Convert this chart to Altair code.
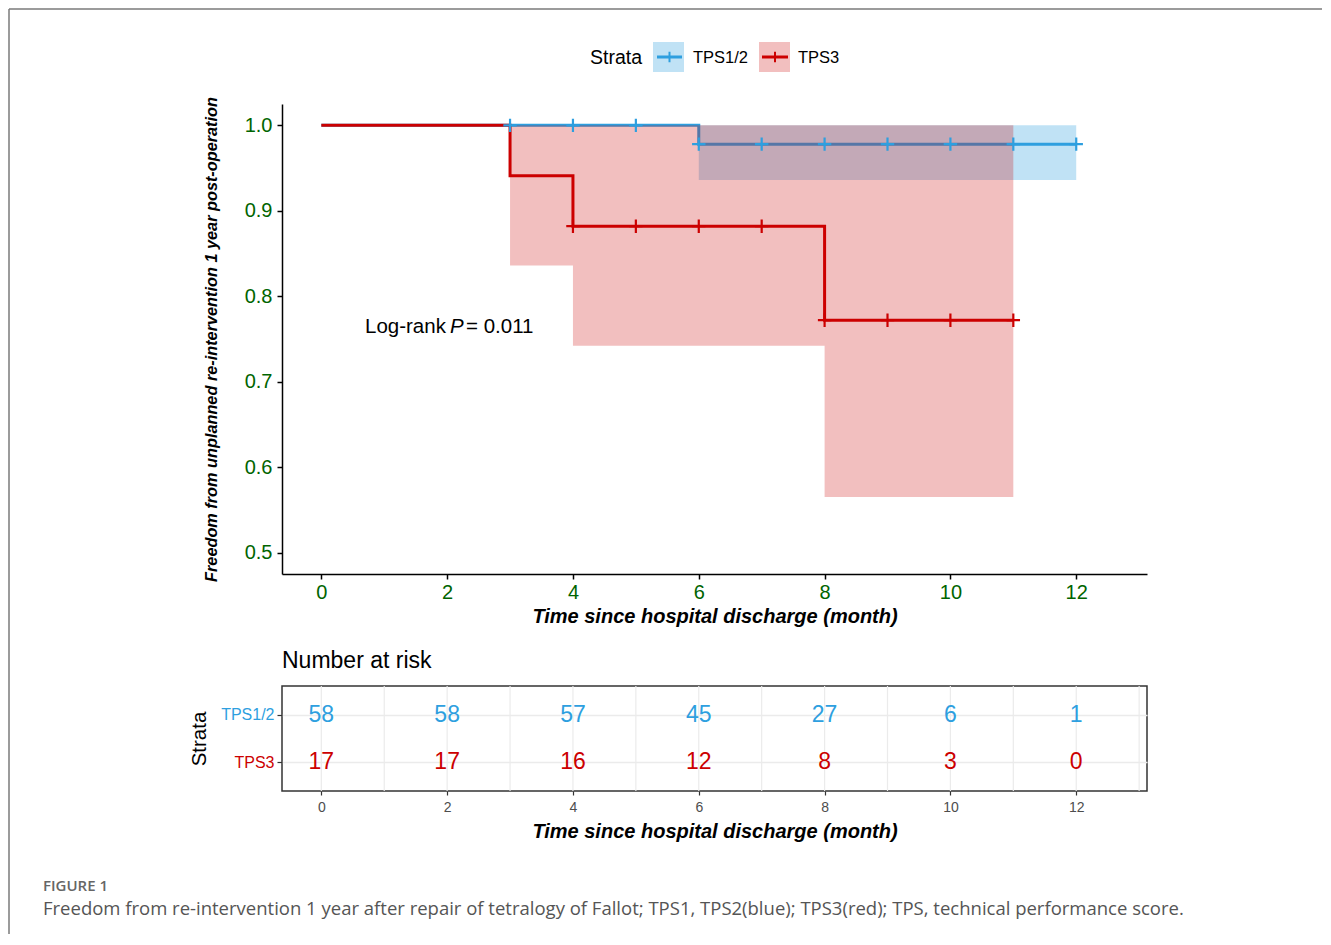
import altair as alt
import pandas as pd

BLUE = "#2E9FDF"
RED = "#CC0000"
GREEN = "#006400"
FONT = "Liberation Sans"

strata = ["TPS1/2", "TPS3"]

# Kaplan-Meier step curves
blue_time = [0, 6, 12]
blue_surv = [1.0, 0.978, 0.978]
red_time = [0, 3, 4, 8, 11]
red_surv = [1.0, 0.941, 0.882, 0.772, 0.772]

# confidence bands
blue_ci_time = [6, 12]
blue_ci_lower = [0.936, 0.936]
blue_ci_upper = [1.0, 1.0]
red_ci_time = [3, 4, 8, 11]
red_ci_lower = [0.836, 0.742, 0.565, 0.565]
red_ci_upper = [1.0, 1.0, 1.0, 1.0]

# censor marks
blue_cens_time = [3, 4, 5, 6, 7, 8, 9, 10, 11, 12]
blue_cens_surv = [1.0, 1.0, 1.0, 0.978, 0.978, 0.978, 0.978, 0.978, 0.978, 0.978]
red_cens_time = [4, 5, 6, 7, 8, 9, 10, 11]
red_cens_surv = [0.882, 0.882, 0.882, 0.882, 0.772, 0.772, 0.772, 0.772]

# number at risk
risk_time = [0, 2, 4, 6, 8, 10, 12]
risk_blue = [58, 58, 57, 45, 27, 6, 1]
risk_red = [17, 17, 16, 12, 8, 3, 0]

x_ticks = [0, 2, 4, 6, 8, 10, 12]
y_ticks = [0.5, 0.6, 0.7, 0.8, 0.9, 1.0]
grid_months = list(range(0, 14))

x_title = "Time since hospital discharge (month)"
y_title = "Freedom from unplanned re-intervention 1 year post-operation"
caption_head = "FIGURE 1"
caption_text = ("Freedom from re-intervention 1 year after repair of tetralogy of Fallot; "
                "TPS1, TPS2(blue); TPS3(red); TPS, technical performance score.")

W, H = 865, 470
TH = 105

xscale = alt.Scale(domain=[-0.625, 13.125], nice=False, zero=False)
yscale = alt.Scale(domain=[0.475, 1.025], nice=False, zero=False)

x_axis = alt.Axis(values=x_ticks, title=x_title, grid=False, labelColor=GREEN,
                  labelFontSize=20, labelPadding=3, tickSize=5, tickWidth=1.5,
                  tickColor="black", domainColor="black", domainWidth=1.5,
                  titleFontSize=20, titleFontWeight="bold", titleFontStyle="italic",
                  titleColor="black", titlePadding=4)
y_axis = alt.Axis(values=y_ticks, format=".1f", title=y_title, grid=False,
                  labelColor=GREEN, labelFontSize=20, labelPadding=5, tickSize=5,
                  tickWidth=1.5, tickColor="black", domainColor="black", domainWidth=1.5,
                  titleFontSize=16.3, titleFontWeight="bold", titleFontStyle="italic",
                  titleColor="black", titlePadding=25)

X = alt.X("time:Q", scale=xscale, axis=x_axis)


def line_df(t, s):
    return pd.DataFrame({"time": t, "surv": s})


def ci_df(t, lo, up):
    return pd.DataFrame({"time": t, "lower": lo, "upper": up})


def band(df, color, op):
    return alt.Chart(df).mark_area(interpolate="step-after", color=color, opacity=op).encode(
        x=X, y=alt.Y("lower:Q", scale=yscale, axis=y_axis), y2="upper:Q")


def curve(df, color):
    return alt.Chart(df).mark_line(interpolate="step-after", color=color, strokeWidth=3).encode(
        x=X, y=alt.Y("surv:Q", scale=yscale, axis=y_axis))


CROSS = "M-1,0L1,0M0,-1L0,1"


def censor(df, color):
    return alt.Chart(df).mark_point(shape=CROSS, filled=False, strokeWidth=2.2, size=180,
                                    color=color, opacity=1).encode(
        x=X, y=alt.Y("surv:Q", scale=yscale, axis=y_axis))


one = pd.DataFrame({"k": [0]})


def vtext(txt, x, y, size, **kw):
    return alt.Chart(one).mark_text(align="left", baseline="middle", fontSize=size,
                                    **kw).encode(x=alt.value(x), y=alt.value(y),
                                                 text=alt.value(txt))


# legend (drawn above plot area)
legend_layers = [
    vtext("Strata", 308, -46, 19.5, color="black"),
    alt.Chart(one).mark_rect(color=BLUE, opacity=0.3).encode(
        x=alt.value(371), x2=alt.value(402), y=alt.value(-62), y2=alt.value(-32)),
    alt.Chart(one).mark_rule(color=BLUE, strokeWidth=3).encode(
        x=alt.value(375), x2=alt.value(400), y=alt.value(-47)),
    alt.Chart(one).mark_point(shape=CROSS, filled=False, strokeWidth=2, size=110,
                              color=BLUE, opacity=1).encode(x=alt.value(387.5), y=alt.value(-47)),
    vtext("TPS1/2", 411, -46, 16.5, color="black"),
    alt.Chart(one).mark_rect(color=RED, opacity=0.25).encode(
        x=alt.value(477), x2=alt.value(508), y=alt.value(-62), y2=alt.value(-32)),
    alt.Chart(one).mark_rule(color=RED, strokeWidth=3).encode(
        x=alt.value(480), x2=alt.value(506), y=alt.value(-47)),
    alt.Chart(one).mark_point(shape=CROSS, filled=False, strokeWidth=2, size=110,
                              color=RED, opacity=1).encode(x=alt.value(493), y=alt.value(-47)),
    vtext("TPS3", 516, -46, 16.5, color="black"),
]

# log-rank annotation
logrank = [
    vtext("Log-rank", 83, 223, 20.5, color="black"),
    vtext("P", 168, 223, 20.5, color="black", fontStyle="italic"),
    vtext("= 0.011", 184, 223, 20.5, color="black"),
]

# outer figure border (top and left edges)
border = [
    alt.Chart(one).mark_rule(color="#7a7a7a", strokeWidth=1.5).encode(
        x=alt.value(-273), x2=alt.value(1040), y=alt.value(-95)),
    alt.Chart(one).mark_rule(color="#7a7a7a", strokeWidth=1.5).encode(
        x=alt.value(-273), y=alt.value(-95), y2=alt.value(830)),
]

main = alt.layer(
    band(ci_df(blue_ci_time, blue_ci_lower, blue_ci_upper), BLUE, 0.3),
    curve(line_df(blue_time, blue_surv), BLUE),
    band(ci_df(red_ci_time, red_ci_lower, red_ci_upper), RED, 0.25),
    curve(line_df(red_time, red_surv), RED),
    censor(line_df(blue_cens_time, blue_cens_surv), BLUE),
    censor(line_df(red_cens_time, red_cens_surv), RED),
    *logrank, *legend_layers, *border,
).properties(width=W, height=H, view=alt.ViewBackground(strokeWidth=0))

# risk table
risk_df = pd.DataFrame({
    "time": risk_time + risk_time,
    "strata": [strata[0]] * len(risk_time) + [strata[1]] * len(risk_time),
    "n": risk_blue + risk_red,
})
grid_df = pd.DataFrame({"time": grid_months})

tx_axis = alt.Axis(values=x_ticks, title=x_title, grid=False, domain=False,
                   labelColor="#4D4D4D", labelFontSize=14, labelPadding=5,
                   tickSize=4, tickWidth=1.2, tickColor="#333333",
                   titleFontSize=20, titleFontWeight="bold", titleFontStyle="italic",
                   titleColor="black", titlePadding=7)
ty_axis = alt.Axis(title="Strata", grid=True, gridColor="#EBEBEB", gridWidth=1.5,
                   domain=False, labelFontSize=16, labelPadding=3, tickSize=5,
                   tickWidth=1.2, tickColor="#333333",
                   labelColor=alt.condition("datum.value == 'TPS3'", alt.value(RED), alt.value(BLUE)),
                   titleFontSize=20.5, titleFontWeight="normal", titleColor="black",
                   titlePadding=11)
TX = alt.X("time:Q", scale=xscale, axis=tx_axis)
TY = alt.Y("strata:N", scale=alt.Scale(type="point", padding=0.6, domain=strata), axis=ty_axis)

grid_rules = alt.Chart(grid_df).mark_rule(color="#EBEBEB", strokeWidth=1.2).encode(x=TX)
risk_text = alt.Chart(risk_df).mark_text(fontSize=23, baseline="middle").encode(
    x=TX, y=TY, text="n:Q",
    color=alt.Color("strata:N", scale=alt.Scale(domain=strata, range=[BLUE, RED]), legend=None))

captions = [
    vtext(caption_head, -239, 200, 15, color="#666666", font="Open Sans", fontWeight=600),
    vtext(caption_text, -239, 223, 18.5, color="#555555", font="Open Sans"),
]

table = alt.layer(grid_rules, risk_text, *captions).properties(
    width=W, height=TH,
    title=alt.TitleParams("Number at risk", anchor="start", frame="group", fontSize=23,
                          fontWeight="normal", color="black", offset=12),
    view=alt.ViewBackground(stroke="#333333", strokeWidth=1.5),
)

chart = alt.vconcat(main, table, spacing=112, bounds="flush").properties(
    padding=0, background="white"
).configure(font=FONT)

chart.save("out.html", embed_options={"renderer": "svg", "actions": False})
